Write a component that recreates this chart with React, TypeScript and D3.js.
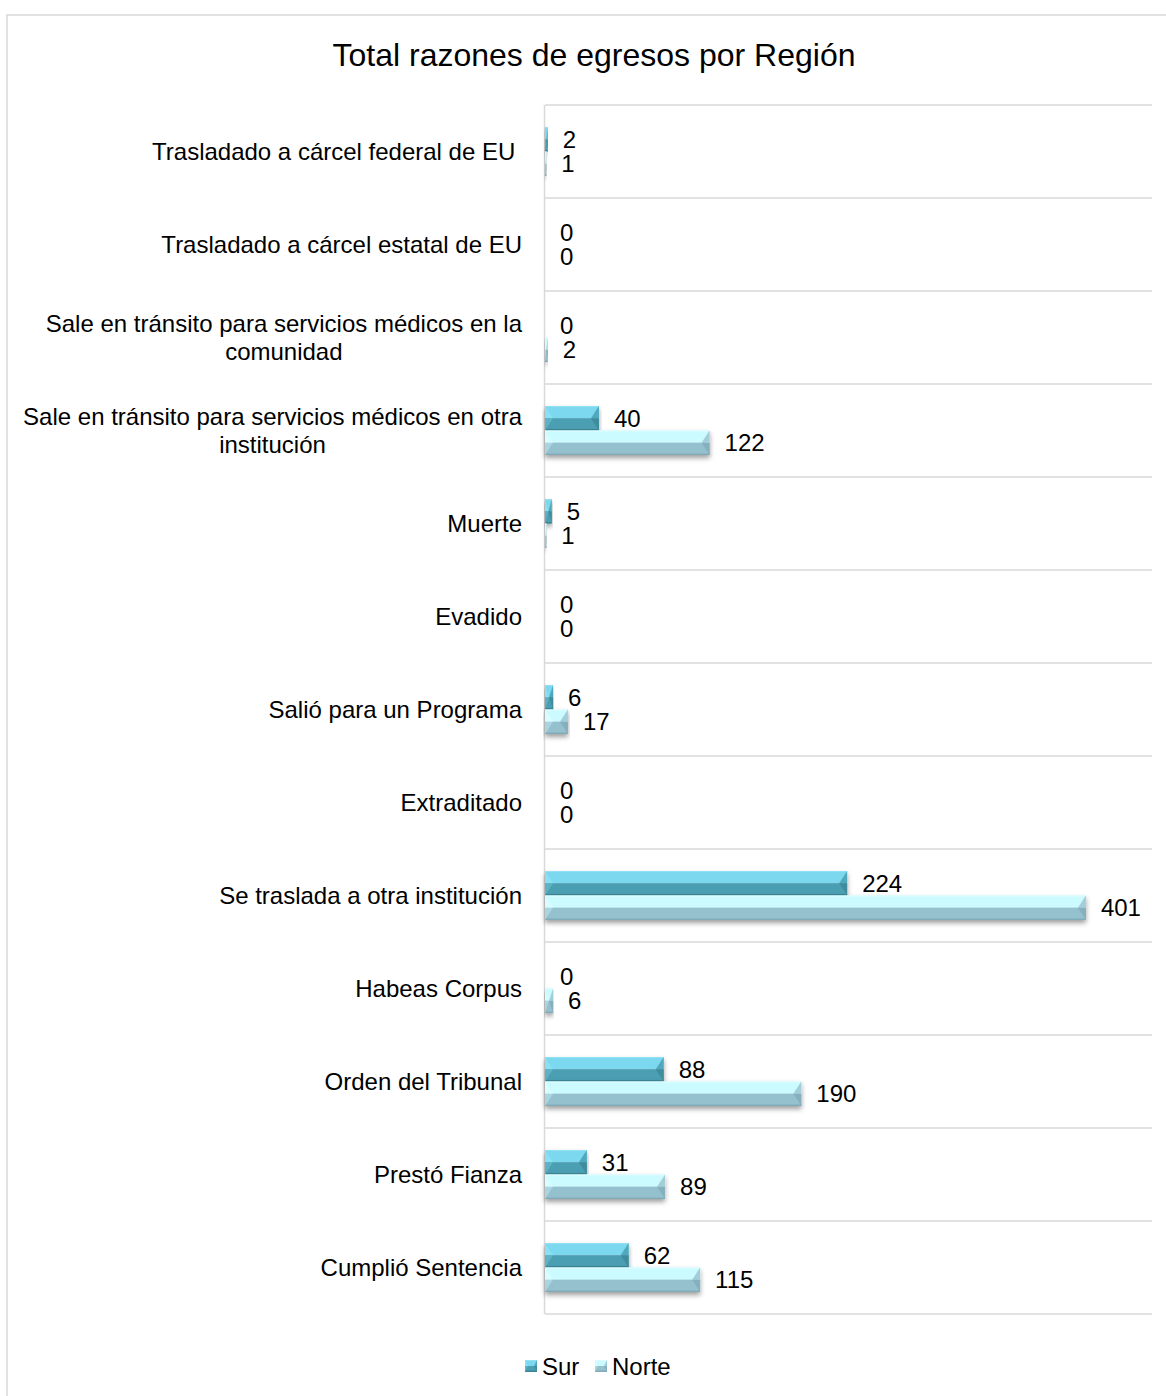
import React from "react";
import * as d3 from "d3";

const categories = [
  "Trasladado a cárcel federal de EU\u00a0",
  "Trasladado a cárcel estatal de EU",
  "Sale en tránsito para servicios médicos en la|comunidad",
  "Sale en tránsito para servicios médicos en otra|institución",
  "Muerte",
  "Evadido",
  "Salió para un Programa",
  "Extraditado",
  "Se traslada a otra institución",
  "Habeas Corpus",
  "Orden del Tribunal",
  "Prestó Fianza",
  "Cumplió Sentencia",
];
const surValues = [2, 0, 0, 40, 5, 0, 6, 0, 224, 0, 88, 31, 62];
const norteValues = [1, 0, 2, 122, 1, 0, 17, 0, 401, 6, 190, 89, 115];
const seriesNames = ["Sur", "Norte"];

const W = 1166;
const H = 1396;
const FONT = "'Liberation Sans', Arial, sans-serif";

const palettes = [
  { up: "#7bd8ee", low: "#4b9fb2", edgeTop: "#8ee2f4", edgeBot: "#3c8696", lUp: "#8ae0f3", lLow: "#5db3c5", rUp: "#50a8bb", rLow: "#3f8c9d" },
  { up: "#cbfbff", low: "#95c1cf", edgeTop: "#dbfdff", edgeBot: "#82abb9", lUp: "#d8fdff", lLow: "#a9d5e1", rUp: "#a2cdd9", rLow: "#86b0be" },
];

function BevelBar({ x0, x1, y0, y1, p, maxB = 8 }: any) {
  const w = x1 - x0;
  const h = y1 - y0;
  if (w <= 0) return null;
  const b = Math.min(maxB, w / 2);
  const ym = y0 + h / 2;
  return (
    <g shapeRendering="geometricPrecision">
      <rect x={x0} y={y0} width={w} height={h / 2} fill={p.up} />
      <rect x={x0} y={ym} width={w} height={h / 2} fill={p.low} />
      <rect x={x0} y={y0} width={w} height={1.2} fill={p.edgeTop} />
      <rect x={x0} y={y1 - 1.5} width={w} height={1.5} fill={p.edgeBot} />
      <polygon points={`${x0},${y0} ${x0 + b},${ym} ${x0},${ym}`} fill={p.lUp} />
      <polygon points={`${x0},${ym} ${x0 + b},${ym} ${x0},${y1}`} fill={p.lLow} />
      <polygon points={`${x1},${y0} ${x1 - b},${ym} ${x1},${ym}`} fill={p.rUp} />
      <polygon points={`${x1},${ym} ${x1 - b},${ym} ${x1},${y1}`} fill={p.rLow} />
    </g>
  );
}

let ctx: CanvasRenderingContext2D | null = null;
function measure(t: string, size: number) {
  if (!ctx) ctx = document.createElement("canvas").getContext("2d");
  if (!ctx) return t.length * size * 0.5;
  ctx.font = `${size}px 'Liberation Sans', Arial, sans-serif`;
  return ctx.measureText(t).width;
}

export default function App() {
  const left = 545;
  const right = 1152;
  const top = 105;
  const bottom = 1314;
  const x = d3.scaleLinear().domain([0, 450]).range([left, right]);
  const y = d3.scaleBand().domain(categories).range([top, bottom]).paddingInner(0).paddingOuter(0);
  const bandH = y.bandwidth();
  const barH = 24.5;
  const fs = 24;
  const labelRight = 522;

  return (
    <svg width={W} height={H} style={{ position: "absolute", left: 0, top: 0 }} fontFamily={FONT}>
      <defs>
        <filter id="sh" x="-5%" y="-30%" width="110%" height="180%">
          <feDropShadow dx="0" dy="3" stdDeviation="2.5" floodColor="#000" floodOpacity="0.38" />
        </filter>
      </defs>
      <rect x={0} y={0} width={W} height={H} fill="#fff" />
      <rect x={7} y={15} width={W + 10} height={H + 10} fill="#fff" stroke="#d9d9d9" strokeWidth={1.5} />
      <text x={594} y={55} fontSize={32} textAnchor="middle" dominantBaseline="central" fill="#000">
        Total razones de egresos por Región
      </text>
      {d3.range(categories.length + 1).map((i) => {
        const yy = top + i * bandH;
        return <line key={i} x1={left} x2={right} y1={yy} y2={yy} stroke="#d9d9d9" strokeWidth={1.5} />;
      })}
      <line x1={left - 0.5} x2={left - 0.5} y1={top} y2={bottom} stroke="#d9d9d9" strokeWidth={1.5} />
      {categories.map((c) => {
        const lines = c.split("|");
        const cy = (y(c) as number) + bandH / 2;
        const lh = 28;
        if (lines.length === 1) {
          return (
            <text key={c} x={labelRight} y={cy} fontSize={fs} textAnchor="end" dominantBaseline="central">
              {lines[0]}
            </text>
          );
        }
        const maxW = Math.max(...lines.map((l) => measure(l, fs)));
        const cx = labelRight - maxW / 2;
        return (
          <text key={c} fontSize={fs} textAnchor="middle">
            {lines.map((l, k) => (
              <tspan key={k} x={cx} y={cy + (k - (lines.length - 1) / 2) * lh} dominantBaseline="central">
                {l}
              </tspan>
            ))}
          </text>
        );
      })}
      {categories.map((c, i) => {
        const cy = (y(c) as number) + bandH / 2;
        const vals = [surValues[i], norteValues[i]];
        return (
          <g key={c}>
            {vals.map((v, s) => {
              const y0 = cy - barH + s * barH;
              const x1 = x(v);
              return (
                <g key={s}>
                  <g filter="url(#sh)">
                    <BevelBar x0={left} x1={x1} y0={y0} y1={y0 + barH} p={palettes[s]} />
                  </g>
                  <text x={x1 + 15} y={y0 + barH / 2} fontSize={fs} dominantBaseline="central" fill="#000">
                    {v}
                  </text>
                </g>
              );
            })}
          </g>
        );
      })}
      {seriesNames.map((n, s) => {
        const lx = s === 0 ? 525 : 595;
        const ly = 1360;
        return (
          <g key={n}>
            <BevelBar x0={lx} x1={lx + 12} y0={ly} y1={ly + 12} p={palettes[s]} maxB={3} />
            <text x={lx + 17} y={ly + 6} fontSize={fs} dominantBaseline="central">
              {n}
            </text>
          </g>
        );
      })}
    </svg>
  );
}
